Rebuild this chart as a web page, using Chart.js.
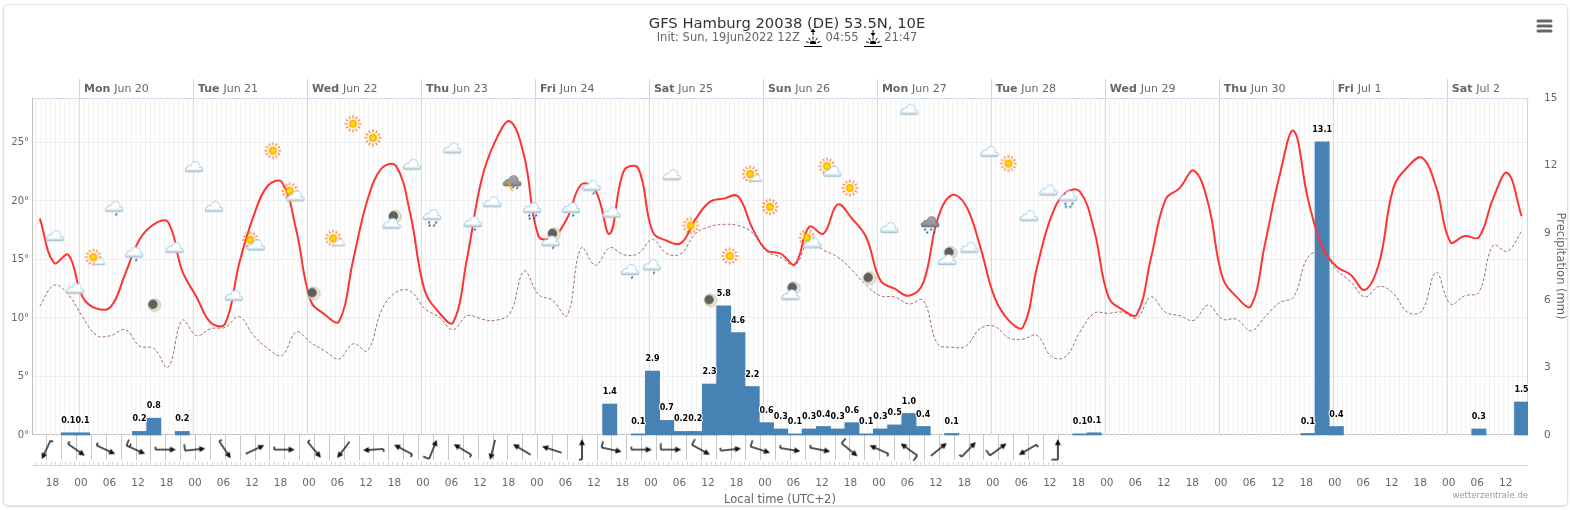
<!DOCTYPE html>
<html>
<head>
<meta charset="utf-8">
<title>GFS Hamburg</title>
<script src="https://cdn.jsdelivr.net/npm/chart.js@4"></script>
<style>
  html, body { margin: 0; padding: 0; background: #fff; }
  #wrap { position: relative; width: 1570px; height: 510px; overflow: hidden; }
  #frame { position: absolute; left: 3px; top: 4px; width: 1563px; height: 500px; border: 1px solid #e0e0e0; border-radius: 5px; box-shadow: 0 1px 2px #ddd; }
  #chart { position: absolute; left: 0; top: 0; }
</style>
</head>
<body>
<div id="wrap">
  <div id="frame"></div>
  <canvas id="chart" width="1570" height="510"></canvas>
</div>
<script>
'use strict'

// hours counted from Mon Jun 20 00:00 local time
const stepHours = [
  -8.25, -5.25, -2.25, 0.75, 3.75, 6.75, 9.75, 12.75, 15.75, 18.75,
  21.75, 24.75, 27.75, 30.75, 33.75, 36.75, 39.75, 42.75, 45.75, 48.75,
  51.75, 54.75, 57.75, 60.75, 63.75, 66.75, 69.75, 72.75, 75.75, 78.75,
  81.75, 84.75, 87.75, 90.75, 93.75, 96.75, 99.75, 102.75, 105.75, 108.75,
  111.75, 114.75, 117.75, 120.75, 123.75, 126.75, 129.75, 132.75, 135.75, 138.75,
  141.75, 144.75, 147.75, 150.75, 153.75, 156.75, 159.75, 162.75, 165.75, 168.75,
  171.75, 174.75, 177.75, 180.75, 183.75, 186.75, 189.75, 192.75, 195.75, 198.75,
  201.75, 204.75, 207.75, 210.75, 213.75, 216.75, 219.75, 222.75, 225.75, 228.75,
  231.75, 234.75, 237.75, 240.75, 243.75, 246.75, 249.75, 252.75, 255.75, 258.75,
  261.75, 264.75, 267.75, 270.75, 273.75, 276.75, 279.75, 282.75, 285.75, 288.75,
  291.75, 294.75, 297.75, 300.75, 303.75,
]

const temperature = [
  18.5, 14.7, 15.4, 11.8, 10.8, 11.0, 13.8, 16.7, 18.0, 18.2,
  14.0, 11.8, 9.6, 9.5, 14.7, 18.7, 21.3, 21.6, 17.5, 11.5,
  10.3, 9.7, 15.0, 20.1, 22.8, 23.0, 18.9, 12.4, 10.5, 9.6,
  15.2, 21.8, 25.2, 26.8, 23.8, 17.0, 16.9, 18.5, 21.4, 20.9,
  17.2, 22.6, 22.8, 17.4, 16.6, 16.4, 18.4, 19.9, 20.2, 20.4,
  17.7, 15.8, 15.5, 14.6, 17.8, 17.2, 19.7, 18.5, 16.9, 13.2,
  12.5, 11.9, 13.0, 18.4, 20.5, 19.6, 16.1, 11.8, 9.8, 9.2,
  14.4, 18.7, 20.7, 20.8, 17.5, 11.8, 10.7, 10.3, 15.2, 20.1,
  21.1, 22.6, 19.8, 13.5, 11.8, 11.0, 16.4, 22.1, 26.0, 20.2,
  16.1, 14.4, 13.7, 12.4, 14.7, 21.1, 22.9, 23.7, 21.2, 16.5,
  17.0, 16.9, 20.2, 22.4, 18.7,
]

const dewPoint = [
  11.0, 12.8, 12.0, 10.1, 8.5, 8.5, 9.0, 7.6, 7.4, 5.8,
  9.8, 8.5, 9.1, 9.2, 10.1, 8.5, 7.4, 6.8, 8.8, 7.9,
  7.2, 6.5, 7.8, 7.2, 10.7, 12.2, 12.3, 10.8, 10.1, 9.0,
  10.2, 9.9, 9.8, 10.4, 14.0, 12.0, 11.5, 10.2, 16.0, 14.5,
  16.0, 15.4, 15.5, 16.7, 15.5, 15.5, 17.2, 17.8, 18.0, 17.9,
  17.3, 15.7, 15.2, 14.5, 16.6, 15.8, 15.2, 14.1, 12.8, 11.9,
  11.8, 11.2, 11.5, 7.8, 7.5, 7.6, 9.1, 9.3, 8.3, 8.2,
  8.5, 6.7, 6.7, 8.8, 10.4, 10.4, 10.5, 10.0, 11.8, 10.5,
  10.2, 9.8, 11.1, 9.9, 9.9, 8.9, 10.1, 11.3, 11.8, 15.2,
  15.6, 14.1, 13.1, 11.8, 12.7, 12.1, 10.5, 10.6, 13.9, 11.2,
  11.9, 12.2, 16.2, 15.7, 17.4,
]

// the printed label is this value to one decimal
const precipitation = [
  null, null, 0.1, 0.1, null, null, null, 0.16, 0.75, null,
  0.16, null, null, null, null, null, null, null, null, null,
  null, null, null, null, null, null, null, null, null, null,
  null, null, null, null, null, null, null, null, null, null,
  1.38, null, 0.05, 2.85, 0.65, 0.16, 0.16, 2.27, 5.75, 4.56,
  2.16, 0.55, 0.27, 0.05, 0.27, 0.38, 0.27, 0.55, 0.05, 0.27,
  0.45, 0.96, 0.38, null, 0.07, null, null, null, null, null,
  null, null, null, 0.05, 0.1, null, null, null, null, null,
  null, null, null, null, null, null, null, null, null, 0.07,
  13.05, 0.38, null, null, null, null, null, null, null, null,
  null, 0.27, null, null, 1.47,
]

const windHours = [
  -6.9, -0.6, 5.6, 11.9, 18.2, 24.4, 30.7, 37.0, 43.2, 49.5, 55.7, 62.0,
  68.3, 74.5, 80.8, 87.1, 93.3, 99.6, 105.9, 112.1, 118.4, 124.6, 130.9, 137.2,
  143.4, 149.7, 156.0, 162.2, 168.5, 174.8, 181.0, 187.3, 193.5, 199.8, 206.1,
]
const windDirection = [
  205, 125, 115, 114, 90, 84, 146, 65, 90, 140, 217, 266,
  298, 22, 301, 194, 301, 288, 0, 102, 90, 90, 119, 84,
  108, 99, 101, 129, 294, 306, 51, 44, 54, 240, 0,
]
const windBarbs = [
  1, 1, 1, 3, 1, 2, 1, 0, 1, 1, 0, 1,
  1, 2, 1, 0, 0, 0, 1, 2, 1, 2, 2, 1,
  2, 1, 1, 2, 1, 2, 0, 1, 2, 1, 2,
]

const iconHours = [
  -5.1, -0.8, 3.0, 7.4, 11.6, 15.9, 20.1, 24.2, 28.4, 32.6, 36.7, 40.8, 45.0,
  49.4, 53.5, 57.7, 61.9, 66.1, 70.1, 74.3, 78.6, 82.9, 87.0, 91.2, 95.4, 99.6,
  103.6, 107.9, 112.1, 116.0, 120.6, 124.8, 128.8, 133.0, 137.0, 141.3, 145.5, 150.1, 153.9,
  158.1, 162.3, 166.5, 170.6, 174.8, 179.2, 183.1, 187.5, 191.7, 195.7, 200.0, 204.1, 208.3,
]
const iconTemps = [
  17.0, 12.5, 15.2, 19.5, 15.6, 11.1, 16.0, 22.9, 19.5, 11.9, 16.5, 24.3, 20.7,
  12.1, 16.8, 26.6, 25.4, 18.4, 23.1, 18.8, 24.5, 18.2, 19.9, 21.7, 19.4, 16.9,
  19.4, 21.3, 19.0, 14.1, 14.5, 22.2, 17.9, 11.5, 15.3, 22.3, 19.5, 12.3, 16.7,
  22.8, 21.1, 13.4, 17.7, 27.8, 18.2, 15.3, 16.0, 24.2, 23.2, 18.7, 20.9, 20.4,
]
const iconKinds = [
  'cloud', 'cloud', 'sunS', 'rain1', 'rain1', 'moon', 'cloud', 'cloud', 'cloud', 'cloud', 'sunC', 'sun', 'sunC',
  'moon', 'sunS', 'sun', 'sun', 'moonC', 'cloud', 'rain3', 'cloud', 'rain1', 'cloud', 'storm', 'rain3', 'moonCR',
  'rain1', 'rain1', 'cloud', 'rain1', 'rain1', 'cloud', 'sun', 'moon', 'sun', 'sunS', 'sun', 'moonC', 'sunC',
  'sunC', 'sun', 'moon', 'cloud', 'cloud', 'heavy', 'moonC', 'cloud', 'cloud', 'sun', 'cloud', 'cloud', 'rain3',
]

const timeTicks = [
  -6, 0, 6, 12, 18, 24, 30, 36, 42, 48, 54, 60, 66, 72, 78, 84, 90, 96, 102, 108, 114, 120, 126,
  132, 138, 144, 150, 156, 162, 168, 174, 180, 186, 192, 198, 204, 210, 216, 222, 228, 234, 240,
  246, 252, 258, 264, 270, 276, 282, 288, 294, 300,
]
const dayTicks = [0, 24, 48, 72, 96, 120, 144, 168, 192, 216, 240, 264, 288]
const dayNames = ['Mon', 'Tue', 'Wed', 'Thu', 'Fri', 'Sat', 'Sun', 'Mon', 'Tue', 'Wed', 'Thu', 'Fri', 'Sat']
const dayDates = ['Jun 20', 'Jun 21', 'Jun 22', 'Jun 23', 'Jun 24', 'Jun 25', 'Jun 26', 'Jun 27', 'Jun 28', 'Jun 29', 'Jun 30', 'Jul 1', 'Jul 2']
const tempTicks = [0, 5, 10, 15, 20, 25]
const precipTicks = [0, 3, 6, 9, 12, 15]

const FONT = '"DejaVu Sans", sans-serif'
const GREY = '#666666'
const LINE_BLUE = '#ccd6eb'
const WIND_ROW = -1.25

Chart.defaults.font.family = FONT
Chart.defaults.color = GREY

function pairs(xs, ys) {
  return xs.map((x, i) => ({ x: x, y: ys[i] }))
}

function cloudShape(c, x, y, s, grow) {
  c.beginPath()
  c.arc(x + 1.5 * s, y - 0.8 * s, (4.2 + grow) * s, 0, Math.PI * 2)
  c.arc(x - 4 * s, y + 1.4 * s, (2.6 + grow) * s, 0, Math.PI * 2)
  c.fill()
  c.beginPath()
  c.roundRect(x - (8.6 + grow) * s, y + (1 - grow) * s, (17.2 + 2 * grow) * s, (3.6 + 2 * grow) * s, 2.2 * s)
  c.fill()
}

function drawCloud(c, x, y, s, dark) {
  c.fillStyle = dark ? '#6f7276' : '#93cbe8'
  cloudShape(c, x, y, s, 0.7)
  const g = c.createLinearGradient(0, y - 5 * s, 0, y + 5 * s)
  g.addColorStop(0, dark ? '#a5a7aa' : '#ffffff')
  g.addColorStop(0.65, dark ? '#96989b' : '#ffffff')
  g.addColorStop(1, dark ? '#77797c' : '#b8b8b8')
  c.fillStyle = g
  cloudShape(c, x, y, s, 0)
}

function drawSun(c, x, y) {
  c.strokeStyle = '#ff7414'
  c.lineWidth = 1.2
  for (let i = 0; i < 12; i++) {
    const a = (i * Math.PI) / 6
    c.beginPath()
    c.moveTo(x + Math.cos(a) * 5.4, y + Math.sin(a) * 5.4)
    c.lineTo(x + Math.cos(a) * 8.4, y + Math.sin(a) * 8.4)
    c.stroke()
  }
  const g = c.createRadialGradient(x, y, 0.5, x, y, 4)
  g.addColorStop(0, '#ffee00')
  g.addColorStop(1, '#ffa000')
  c.fillStyle = g
  c.beginPath()
  c.arc(x, y, 3.9, 0, Math.PI * 2)
  c.fill()
}

function drawMoon(c, x, y) {
  c.fillStyle = '#ece9cf'
  c.strokeStyle = '#b5b5a8'
  c.lineWidth = 0.8
  c.beginPath()
  c.arc(x, y, 6.2, 0, Math.PI * 2)
  c.fill()
  c.stroke()
  c.fillStyle = '#5f5f5f'
  c.beginPath()
  c.arc(x - 1.6, y - 0.7, 4.7, 0, Math.PI * 2)
  c.fill()
}

function drawDrops(c, spots) {
  c.strokeStyle = '#1c6fae'
  c.lineWidth = 1.5
  spots.forEach((p) => {
    c.beginPath()
    c.moveTo(p[0] + 0.8, p[1] - 1)
    c.lineTo(p[0] - 0.6, p[1] + 1)
    c.stroke()
  })
}

function drawBolt(c, x, y) {
  c.strokeStyle = '#ff7a00'
  c.lineWidth = 1.2
  c.beginPath()
  c.moveTo(x - 2, y - 3)
  c.lineTo(x, y + 1)
  c.lineTo(x - 0.5, y + 1)
  c.lineTo(x + 2.5, y + 6)
  c.stroke()
  c.strokeStyle = '#ffd800'
  c.lineWidth = 0.7
  c.stroke()
}

const iconPainters = {
  cloud: (c, m) => drawCloud(c, m, m, 1, false),
  rain1: (c, m) => { drawDrops(c, [[m + 2, m + 7.5]]); drawCloud(c, m, m, 1, false) },
  rain3: (c, m) => { drawDrops(c, [[m - 3, m + 7.5], [m + 4, m + 7.5], [m - 2.5, m + 10.5], [m + 2, m + 10.5]]); drawCloud(c, m, m, 1, false) },
  sun: (c, m) => drawSun(c, m, m),
  sunS: (c, m) => { drawSun(c, m, m); drawCloud(c, m + 6, m + 4.5, 0.65, false) },
  sunC: (c, m) => { drawSun(c, m - 3, m - 2); drawCloud(c, m + 2.5, m + 3.5, 1, false) },
  moon: (c, m) => drawMoon(c, m, m),
  moonC: (c, m) => { drawMoon(c, m + 2, m - 3); drawCloud(c, m - 1.5, m + 4, 1, false) },
  moonCR: (c, m) => { drawMoon(c, m + 2, m - 3); drawDrops(c, [[m + 1, m + 10.5]]); drawCloud(c, m - 1.5, m + 4, 1, false) },
  storm: (c, m) => { drawDrops(c, [[m + 1, m + 6], [m + 5, m + 7]]); drawCloud(c, m, m, 1, true); drawBolt(c, m - 2, m + 4) },
  heavy: (c, m) => { drawDrops(c, [[m - 5, m + 7.5], [m + 1, m + 7.5], [m - 3, m + 10.5], [m + 4, m + 10.5]]); drawCloud(c, m, m, 1, true) },
}

const iconCache = {}
function iconFor(kind) {
  if (!iconCache[kind]) {
    const cv = document.createElement('canvas')
    cv.width = 40
    cv.height = 40
    iconPainters[kind](cv.getContext('2d'), 20)
    iconCache[kind] = cv
  }
  return iconCache[kind]
}

function arrowFor(barbs) {
  const cv = document.createElement('canvas')
  cv.width = 32
  cv.height = 32
  const c = cv.getContext('2d')
  c.strokeStyle = '#111'
  c.fillStyle = '#111'
  c.lineWidth = 1.4
  c.beginPath()
  c.moveTo(16, 26)
  c.lineTo(16, 9)
  c.stroke()
  c.beginPath()
  c.moveTo(16, 5.5)
  c.lineTo(19, 11.5)
  c.lineTo(13, 11.5)
  c.closePath()
  c.fill()
  if (barbs > 0) {
    c.beginPath()
    c.moveTo(16, 26)
    c.lineTo(16 - (barbs === 1 ? 3 : 6.5), 26)
    c.stroke()
  }
  if (barbs > 2) {
    c.beginPath()
    c.moveTo(16, 22.5)
    c.lineTo(12.5, 22.5)
    c.stroke()
  }
  return cv
}

function vline(c, x, y0, y1) {
  const px = Math.round(x) + 0.5
  c.beginPath()
  c.moveTo(px, y0)
  c.lineTo(px, y1)
  c.stroke()
}

const backdrop = {
  id: 'backdrop',
  beforeDatasetsDraw(chart) {
    const c = chart.ctx
    const xs = chart.scales.x
    const a = chart.chartArea
    const zero = chart.scales.y.getPixelForValue(0)
    c.save()
    c.lineWidth = 1
    c.strokeStyle = '#f0f0f0'
    for (let h = -9; h <= 305; h++) {
      const x = xs.getPixelForValue(h)
      c.beginPath()
      c.moveTo(x, a.top)
      c.lineTo(x, zero)
      c.stroke()
    }
    c.strokeStyle = '#dddddd'
    dayTicks.forEach((h) => vline(c, xs.getPixelForValue(h), a.top, zero))
    c.strokeStyle = LINE_BLUE
    dayTicks.forEach((h) => vline(c, xs.getPixelForValue(h), a.top - 19, a.top))
    c.strokeStyle = '#c0c0c0'
    vline(c, a.left, a.top, zero)
    c.strokeStyle = LINE_BLUE
    vline(c, a.right - 1, a.top, zero)
    // the wind strip: a rule at every arrow and between them, hour ticks at its foot
    c.strokeStyle = '#c8c8c8'
    windHours.forEach((h, i) => {
      vline(c, xs.getPixelForValue(h), zero, zero + 25)
      if (i > 0) vline(c, xs.getPixelForValue((h + windHours[i - 1]) / 2), zero, zero + 25)
    })
    c.strokeStyle = LINE_BLUE
    for (let h = -9; h <= 207; h++) vline(c, xs.getPixelForValue(h), a.bottom - 3, a.bottom)
    c.beginPath()
    c.moveTo(a.left, a.bottom + 0.5)
    c.lineTo(a.right, a.bottom + 0.5)
    c.stroke()
    c.restore()
  },
}

const barLabels = {
  id: 'barLabels',
  afterDatasetsDraw(chart) {
    const c = chart.ctx
    const idx = chart.data.datasets.findIndex((d) => d.label === 'Precipitation')
    const bars = chart.getDatasetMeta(idx).data
    c.save()
    c.font = 'bold 8px ' + FONT
    c.textAlign = 'center'
    c.textBaseline = 'middle'
    c.lineJoin = 'round'
    precipitation.forEach((v, i) => {
      if (v === null) return
      const label = v.toFixed(1)
      c.strokeStyle = '#ffffff'
      c.lineWidth = 2
      c.strokeText(label, bars[i].x, bars[i].y - 12)
      c.fillStyle = '#000000'
      c.fillText(label, bars[i].x, bars[i].y - 12)
    })
    c.restore()
  },
}

function sunGlyph(c, x, up) {
  c.strokeStyle = '#000'
  c.fillStyle = '#000'
  c.lineWidth = 1
  c.beginPath()
  c.moveTo(x, 30)
  c.lineTo(x, 35)
  c.stroke()
  c.beginPath()
  if (up) {
    c.moveTo(x, 28.5); c.lineTo(x + 2.5, 32); c.lineTo(x - 2.5, 32)
  } else {
    c.moveTo(x, 36.5); c.lineTo(x + 2.5, 33); c.lineTo(x - 2.5, 33)
  }
  c.closePath()
  c.fill()
  c.beginPath()
  c.arc(x, 44, 3.2, Math.PI, 0)
  c.fill()
  for (let i = 0; i < 5; i++) {
    const a = Math.PI + ((i + 0.5) * Math.PI) / 5
    c.beginPath()
    c.moveTo(x + Math.cos(a) * 4.5, 44 + Math.sin(a) * 4.5)
    c.lineTo(x + Math.cos(a) * 7.5, 44 + Math.sin(a) * 7.5)
    c.stroke()
  }
  c.beginPath()
  c.moveTo(x - 9, 46.5)
  c.lineTo(x + 9, 46.5)
  c.stroke()
}

const decorations = {
  id: 'decorations',
  afterDraw(chart) {
    const c = chart.ctx
    const top = chart.scales.x2
    const a = chart.chartArea
    c.save()
    // day headings: the weekday is bold, the date is not
    c.textBaseline = 'middle'
    c.textAlign = 'left'
    c.fillStyle = GREY
    dayTicks.forEach((h, i) => {
      const x = top.getPixelForValue(h) + 5
      c.font = 'bold 11px ' + FONT
      c.fillText(dayNames[i], x, 89)
      const w = c.measureText(dayNames[i] + ' ').width
      c.font = '11px ' + FONT
      c.fillText(dayDates[i], x + w, 89)
    })
    sunGlyph(c, 813, true)
    sunGlyph(c, 873, false)
    // menu button
    c.strokeStyle = GREY
    c.lineWidth = 3
    c.lineCap = 'round'
    ;[21, 26, 31].forEach((y) => {
      c.beginPath()
      c.moveTo(1538, y)
      c.lineTo(1551, y)
      c.stroke()
    })
    c.lineCap = 'butt'
    // credit
    c.font = '8.5px ' + FONT
    c.fillStyle = '#999999'
    c.textAlign = 'right'
    c.fillText('wetterzentrale.de', a.right, 496)
    // right axis title sits centred on the 0-15 range only
    c.font = '11.5px ' + FONT
    c.fillStyle = GREY
    c.textAlign = 'center'
    c.translate(1560, 266)
    c.rotate(Math.PI / 2)
    c.fillText('Precipitation (mm)', 0, 0)
    c.restore()
  },
}

const chart = new Chart(document.getElementById('chart').getContext('2d'), {
  type: 'bar',
  data: {
    datasets: [
      {
        type: 'scatter',
        label: 'Weather',
        data: pairs(iconHours, iconTemps),
        pointStyle: iconKinds.map(iconFor),
        pointRadius: 1,
        showLine: false,
        order: 0,
      },
      {
        type: 'scatter',
        label: 'Wind',
        data: windHours.map((h) => ({ x: h, y: WIND_ROW })),
        pointStyle: windBarbs.map(arrowFor),
        rotation: windDirection,
        pointRadius: 1,
        showLine: false,
        order: 0,
      },
      {
        type: 'line',
        label: 'Temperature',
        data: pairs(stepHours, temperature),
        borderColor: '#ff3333',
        borderWidth: 2,
        pointRadius: 0,
        tension: 0.4,
        order: 1,
      },
      {
        type: 'line',
        label: 'Dew point',
        data: pairs(stepHours, dewPoint),
        borderColor: '#a86a6a',
        borderWidth: 1,
        borderDash: [3, 2],
        pointRadius: 0,
        tension: 0.4,
        order: 2,
      },
      {
        type: 'bar',
        label: 'Precipitation',
        data: pairs(stepHours, precipitation),
        backgroundColor: '#4682b4',
        barPercentage: 1,
        categoryPercentage: 1,
        yAxisID: 'y1',
        order: 3,
      },
    ],
  },
  options: {
    responsive: false,
    animation: false,
    events: [],
    layout: { padding: { left: 4, right: 0, top: 0, bottom: 0 } },
    plugins: {
      legend: { display: false },
      tooltip: { enabled: false },
      title: {
        display: true,
        text: 'GFS Hamburg 20038 (DE) 53.5N, 10E',
        color: '#333333',
        font: { family: FONT, size: 14.75, weight: 'normal', lineHeight: 1.1 },
        padding: { top: 16, bottom: 0 },
      },
      subtitle: {
        display: true,
        text: 'Init: Sun, 19Jun2022 12Z       04:55       21:47',
        color: GREY,
        font: { family: FONT, size: 11.5, lineHeight: 1 },
        padding: { top: 0, bottom: 0 },
      },
    },
    scales: {
      x: {
        type: 'linear',
        position: 'bottom',
        min: -9.9,
        max: 305.1,
        offset: false,
        grid: { display: false },
        border: { display: false },
        afterBuildTicks(scale) {
          scale.ticks = timeTicks.map((v) => ({ value: v }))
        },
        afterFit(scale) {
          scale.height = 45
        },
        ticks: {
          autoSkip: false,
          maxRotation: 0,
          padding: 4,
          labelOffset: 2,
          font: { size: 10.5 },
          callback: (v) => String(((v % 24) + 24) % 24).padStart(2, '0'),
        },
        title: {
          display: true,
          text: 'Local time (UTC+2)',
          font: { size: 11.5 },
          padding: { top: 0, bottom: 3 },
        },
      },
      x2: {
        type: 'linear',
        position: 'top',
        min: -9.9,
        max: 305.1,
        offset: false,
        grid: { display: false },
        border: { color: LINE_BLUE },
        afterBuildTicks(scale) {
          scale.ticks = dayTicks.map((v) => ({ value: v }))
        },
        afterFit(scale) {
          scale.height = 54.275
        },
        ticks: { autoSkip: false, maxRotation: 0, callback: () => '' },
      },
      y: {
        type: 'linear',
        position: 'left',
        min: -2.564,
        max: 28.8,
        border: { display: false },
        grid: {
          drawTicks: false,
          color: (ctx) => (ctx.tick && ctx.tick.value === 0 ? '#c0c0c0' : '#efefef'),
        },
        afterBuildTicks(scale) {
          scale.ticks = tempTicks.map((v) => ({ value: v }))
        },
        afterFit(scale) {
          scale.width = 28
        },
        ticks: { padding: 3, font: { size: 10 }, callback: (v) => v + '°' },
      },
      y1: {
        type: 'linear',
        position: 'right',
        min: -1.335,
        max: 15,
        border: { display: false },
        grid: { display: false, drawTicks: false },
        afterBuildTicks(scale) {
          scale.ticks = precipTicks.map((v) => ({ value: v }))
        },
        afterFit(scale) {
          scale.width = 42
        },
        ticks: { padding: 16, font: { size: 10.5 }, callback: (v) => String(v) },
      },
    },
  },
  plugins: [backdrop, barLabels, decorations],
})
</script>
</body>
</html>
